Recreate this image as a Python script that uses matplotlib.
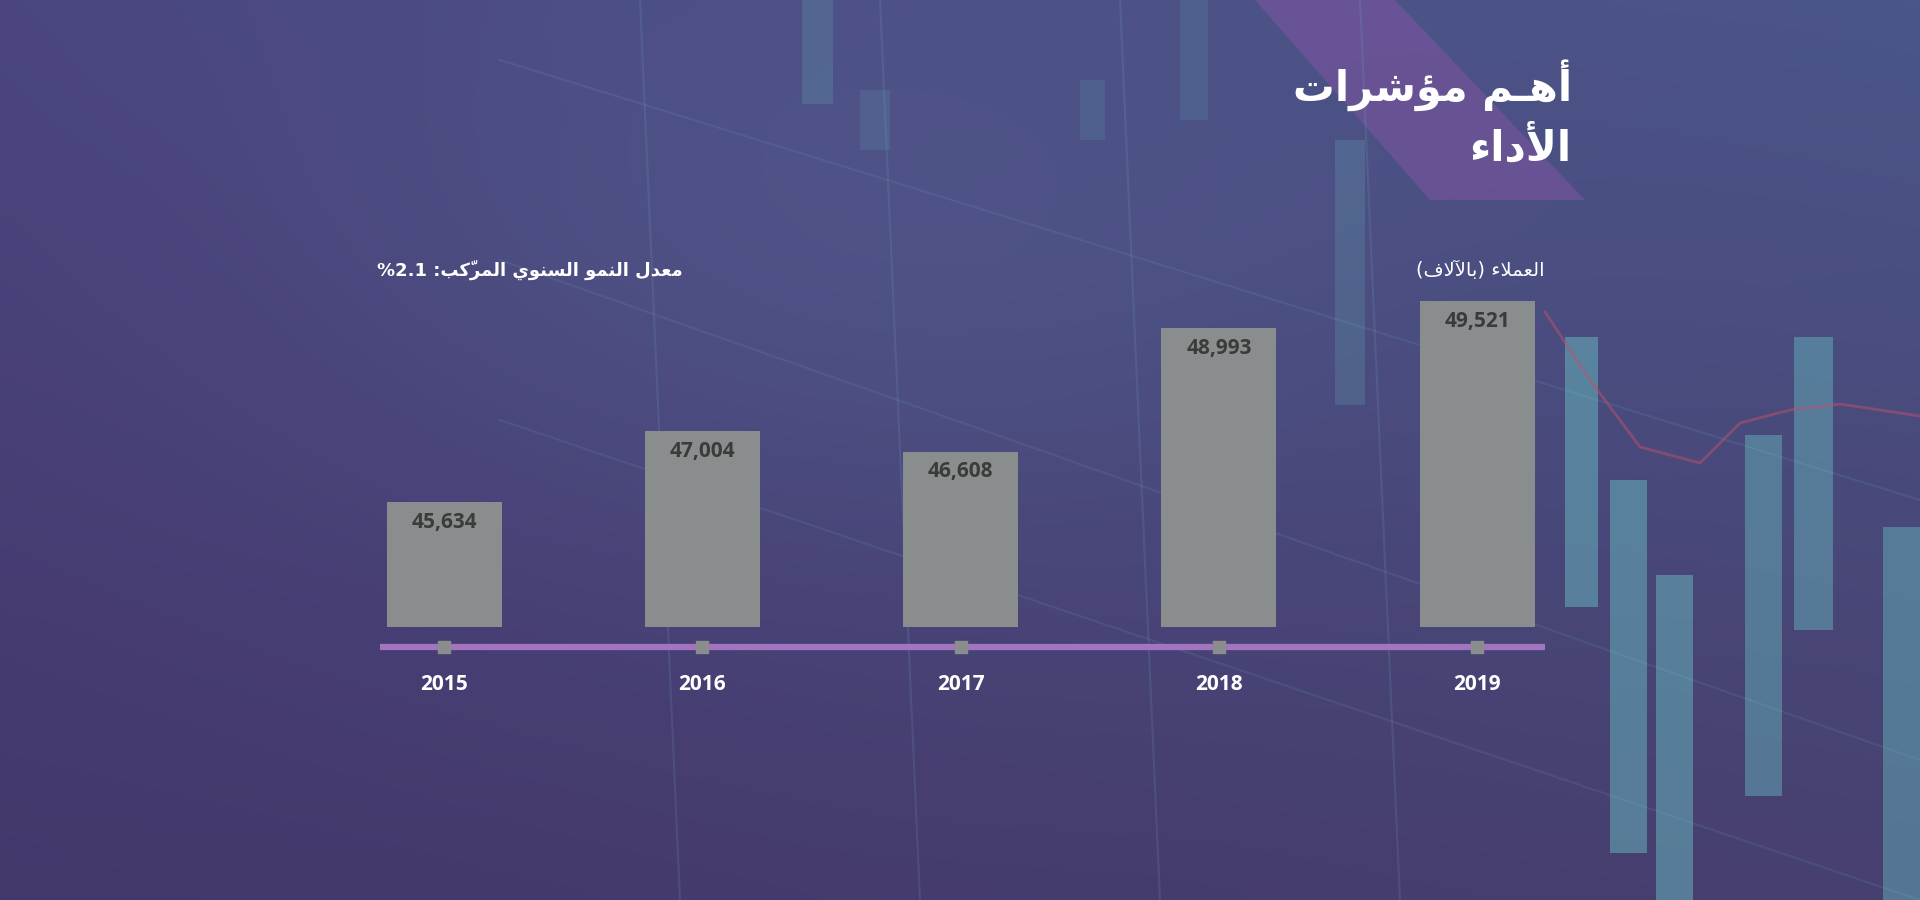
import numpy as np
import matplotlib
matplotlib.use("Agg")
import matplotlib.pyplot as plt
from matplotlib.patches import Polygon, Rectangle
import matplotlib.transforms as mtransforms

# data
years = ["2015", "2016", "2017", "2018", "2019"]
customers = [45634, 47004, 46608, 48993, 49521]

title_line1 = "أهـم مؤشرات"
title_line2 = "الأداء"
cagr_label = "معدل النمو السنوي المركّب:"
cagr_value = "2.1"
unit_label = "العملاء (بالآلاف)"

# --- tiny arabic shaper (matplotlib has no complex text layout) ---
DUAL = {0x0628: 0xFE8F, 0x062A: 0xFE95, 0x062B: 0xFE99, 0x062C: 0xFE9D, 0x062D: 0xFEA1,
        0x062E: 0xFEA5, 0x0633: 0xFEB1, 0x0634: 0xFEB5, 0x0635: 0xFEB9, 0x0636: 0xFEBD,
        0x0637: 0xFEC1, 0x0638: 0xFEC5, 0x0639: 0xFEC9, 0x063A: 0xFECD, 0x0641: 0xFED1,
        0x0642: 0xFED5, 0x0643: 0xFED9, 0x0644: 0xFEDD, 0x0645: 0xFEE1, 0x0646: 0xFEE5,
        0x0647: 0xFEE9, 0x064A: 0xFEF1}
RIGHT = {0x0622: 0xFE81, 0x0623: 0xFE83, 0x0624: 0xFE85, 0x0625: 0xFE87, 0x0627: 0xFE8D,
         0x0629: 0xFE93, 0x062F: 0xFEA9, 0x0630: 0xFEAB, 0x0631: 0xFEAD, 0x0632: 0xFEAF,
         0x0648: 0xFEED, 0x0649: 0xFEEF}
LAMALEF = {0x0622: 0xFEF5, 0x0623: 0xFEF7, 0x0625: 0xFEF9, 0x0627: 0xFEFB}
TATWEEL = 0x0640
MIRROR = {"(": ")", ")": "("}


def joins_back(c):
    return c in DUAL or c in RIGHT or c == TATWEEL


def joins_fwd(c):
    return c in DUAL or c == TATWEEL


def shape(text):
    toks = []
    for ch in text:
        if 0x064B <= ord(ch) <= 0x0652 and toks:
            toks[-1][1] += ch
        else:
            toks.append([ord(ch), ""])
    out = []
    i = 0
    while i < len(toks):
        c, marks = toks[i]
        prev = toks[i - 1][0] if i > 0 else None
        nxt = toks[i + 1][0] if i + 1 < len(toks) else None
        p = prev is not None and joins_fwd(prev)
        if c == 0x0644 and nxt in LAMALEF:
            g = LAMALEF[nxt] + (1 if p else 0)
            out.append(chr(g) + marks + toks[i + 1][1])
            i += 2
            continue
        n = nxt is not None and joins_back(nxt)
        if c in DUAL:
            b = DUAL[c]
            g = b + (3 if p and n else 1 if p else 2 if n else 0)
        elif c in RIGHT:
            g = RIGHT[c] + (1 if p else 0)
        elif c == 0x0621:
            g = 0xFE80
        else:
            g = c
        ch = MIRROR.get(chr(g), chr(g))
        out.append(ch + marks)
        i += 1
    return "".join(reversed(out))


fig = plt.figure(figsize=(19.2, 9), dpi=100)

# background
bg = fig.add_axes([0, 0, 1, 1])
bg.set_xlim(0, 1920)
bg.set_ylim(900, 0)
bg.axis("off")
yy, xx = np.mgrid[0:1:90j, 0:1:192j]
tl = np.array([0x4a, 0x45, 0x7e]) / 255
tr = np.array([0x4b, 0x55, 0x88]) / 255
bl = np.array([0x44, 0x37, 0x6c]) / 255
br = np.array([0x47, 0x40, 0x70]) / 255
img = (tl * ((1 - xx) * (1 - yy))[..., None] + tr * (xx * (1 - yy))[..., None]
       + bl * ((1 - xx) * yy)[..., None] + br * (xx * yy)[..., None])
glow = np.exp(-(((xx - 0.45) / 0.3) ** 2 + ((yy - 0.25) / 0.35) ** 2))[..., None]
img = img * (1 - 0.35 * glow) + np.array([0x58, 0x66, 0x96]) / 255 * 0.35 * glow
bg.imshow(img, extent=(0, 1920, 900, 0), aspect="auto", interpolation="bicubic")

# faint candlesticks / grid on the right (decoration)
candles = [(1565, 337, 33, 270, 0.45), (1610, 480, 37, 373, 0.45), (1656, 575, 37, 325, 0.45),
           (1745, 435, 37, 361, 0.4), (1794, 337, 39, 293, 0.4), (1883, 527, 37, 373, 0.4),
           (802, 0, 31, 104, 0.18), (1335, 140, 30, 265, 0.18), (1180, 0, 28, 120, 0.12),
           (860, 90, 30, 60, 0.12), (1080, 80, 25, 60, 0.12)]
for cx, cy, cw, ch, a in candles:
    bg.add_patch(Rectangle((cx, cy), cw, ch, color="#6cc8c8", alpha=a, lw=0))
for gx in [640, 880, 1120, 1360]:
    bg.plot([gx, gx + 40], [0, 900], color="#7fd0e0", alpha=0.12, lw=1.5)
for y0, y1 in [(60, 500), (260, 760), (420, 900)]:
    bg.plot([500, 1920], [y0, y1], color="#7fd0e0", alpha=0.10, lw=1.5)
bg.plot([1545, 1590, 1640, 1700, 1740, 1790, 1840, 1920],
        [312, 380, 447, 463, 423, 410, 404, 416], color="#c0506a", alpha=0.5, lw=2)

# violet band behind title
bg.add_patch(Polygon([(1255, 0), (1395, 0), (1585, 200), (1430, 200)],
                     closed=True, color="#8a55a8", alpha=0.45, lw=0))

bg.text(1572, 85, shape(title_line1), ha="right", va="center", fontsize=30,
        fontweight="bold", color="white", family=["DejaVu Sans"])
bg.text(1572, 148, shape(title_line2), ha="right", va="center", fontsize=30,
        fontweight="bold", color="white", family=["DejaVu Sans"])

bg.text(683, 270, "%" + cagr_value + " " + shape(cagr_label), ha="right", va="center",
        fontsize=13, fontweight="bold", color="white", family=["DejaVu Sans"])
bg.text(1545, 270, shape(unit_label), ha="right", va="center", fontsize=14,
        color="white", family=["DejaVu Sans"])

# bar chart
ax = fig.add_axes([380 / 1920, (900 - 627) / 900, (1545 - 380) / 1920, 377 / 900])
ax.patch.set_alpha(0)
x = np.arange(len(years))
ax.bar(x, customers, width=0.445, color="#8a8d8d")
ax.set_xlim(-0.248, 4.263)
ax.set_ylim(43216, 50507)
ax.axis("off")
for i, v in enumerate(customers):
    ax.annotate(f"{v:,}", (i, v), xytext=(0, -7), textcoords="offset points",
                ha="center", va="top", fontsize=15, fontweight="bold",
                color="#3b3b3b", family="Open Sans")

trans = mtransforms.blended_transform_factory(ax.transData, ax.transAxes)
ax.plot([0, 1], [-0.052, -0.052], transform=ax.transAxes, color="#a374c0",
        lw=4.5, clip_on=False, solid_capstyle="butt")
ax.scatter(x, [-0.052] * len(x), transform=trans, marker="s", s=80,
           color="#8a8d8d", clip_on=False, zorder=3)
for i, yr in enumerate(years):
    ax.text(i, -0.153, yr, transform=trans, ha="center", va="center",
            fontsize=15, fontweight="bold", color="white", family="Open Sans")

fig.savefig("out.png", dpi=100)
